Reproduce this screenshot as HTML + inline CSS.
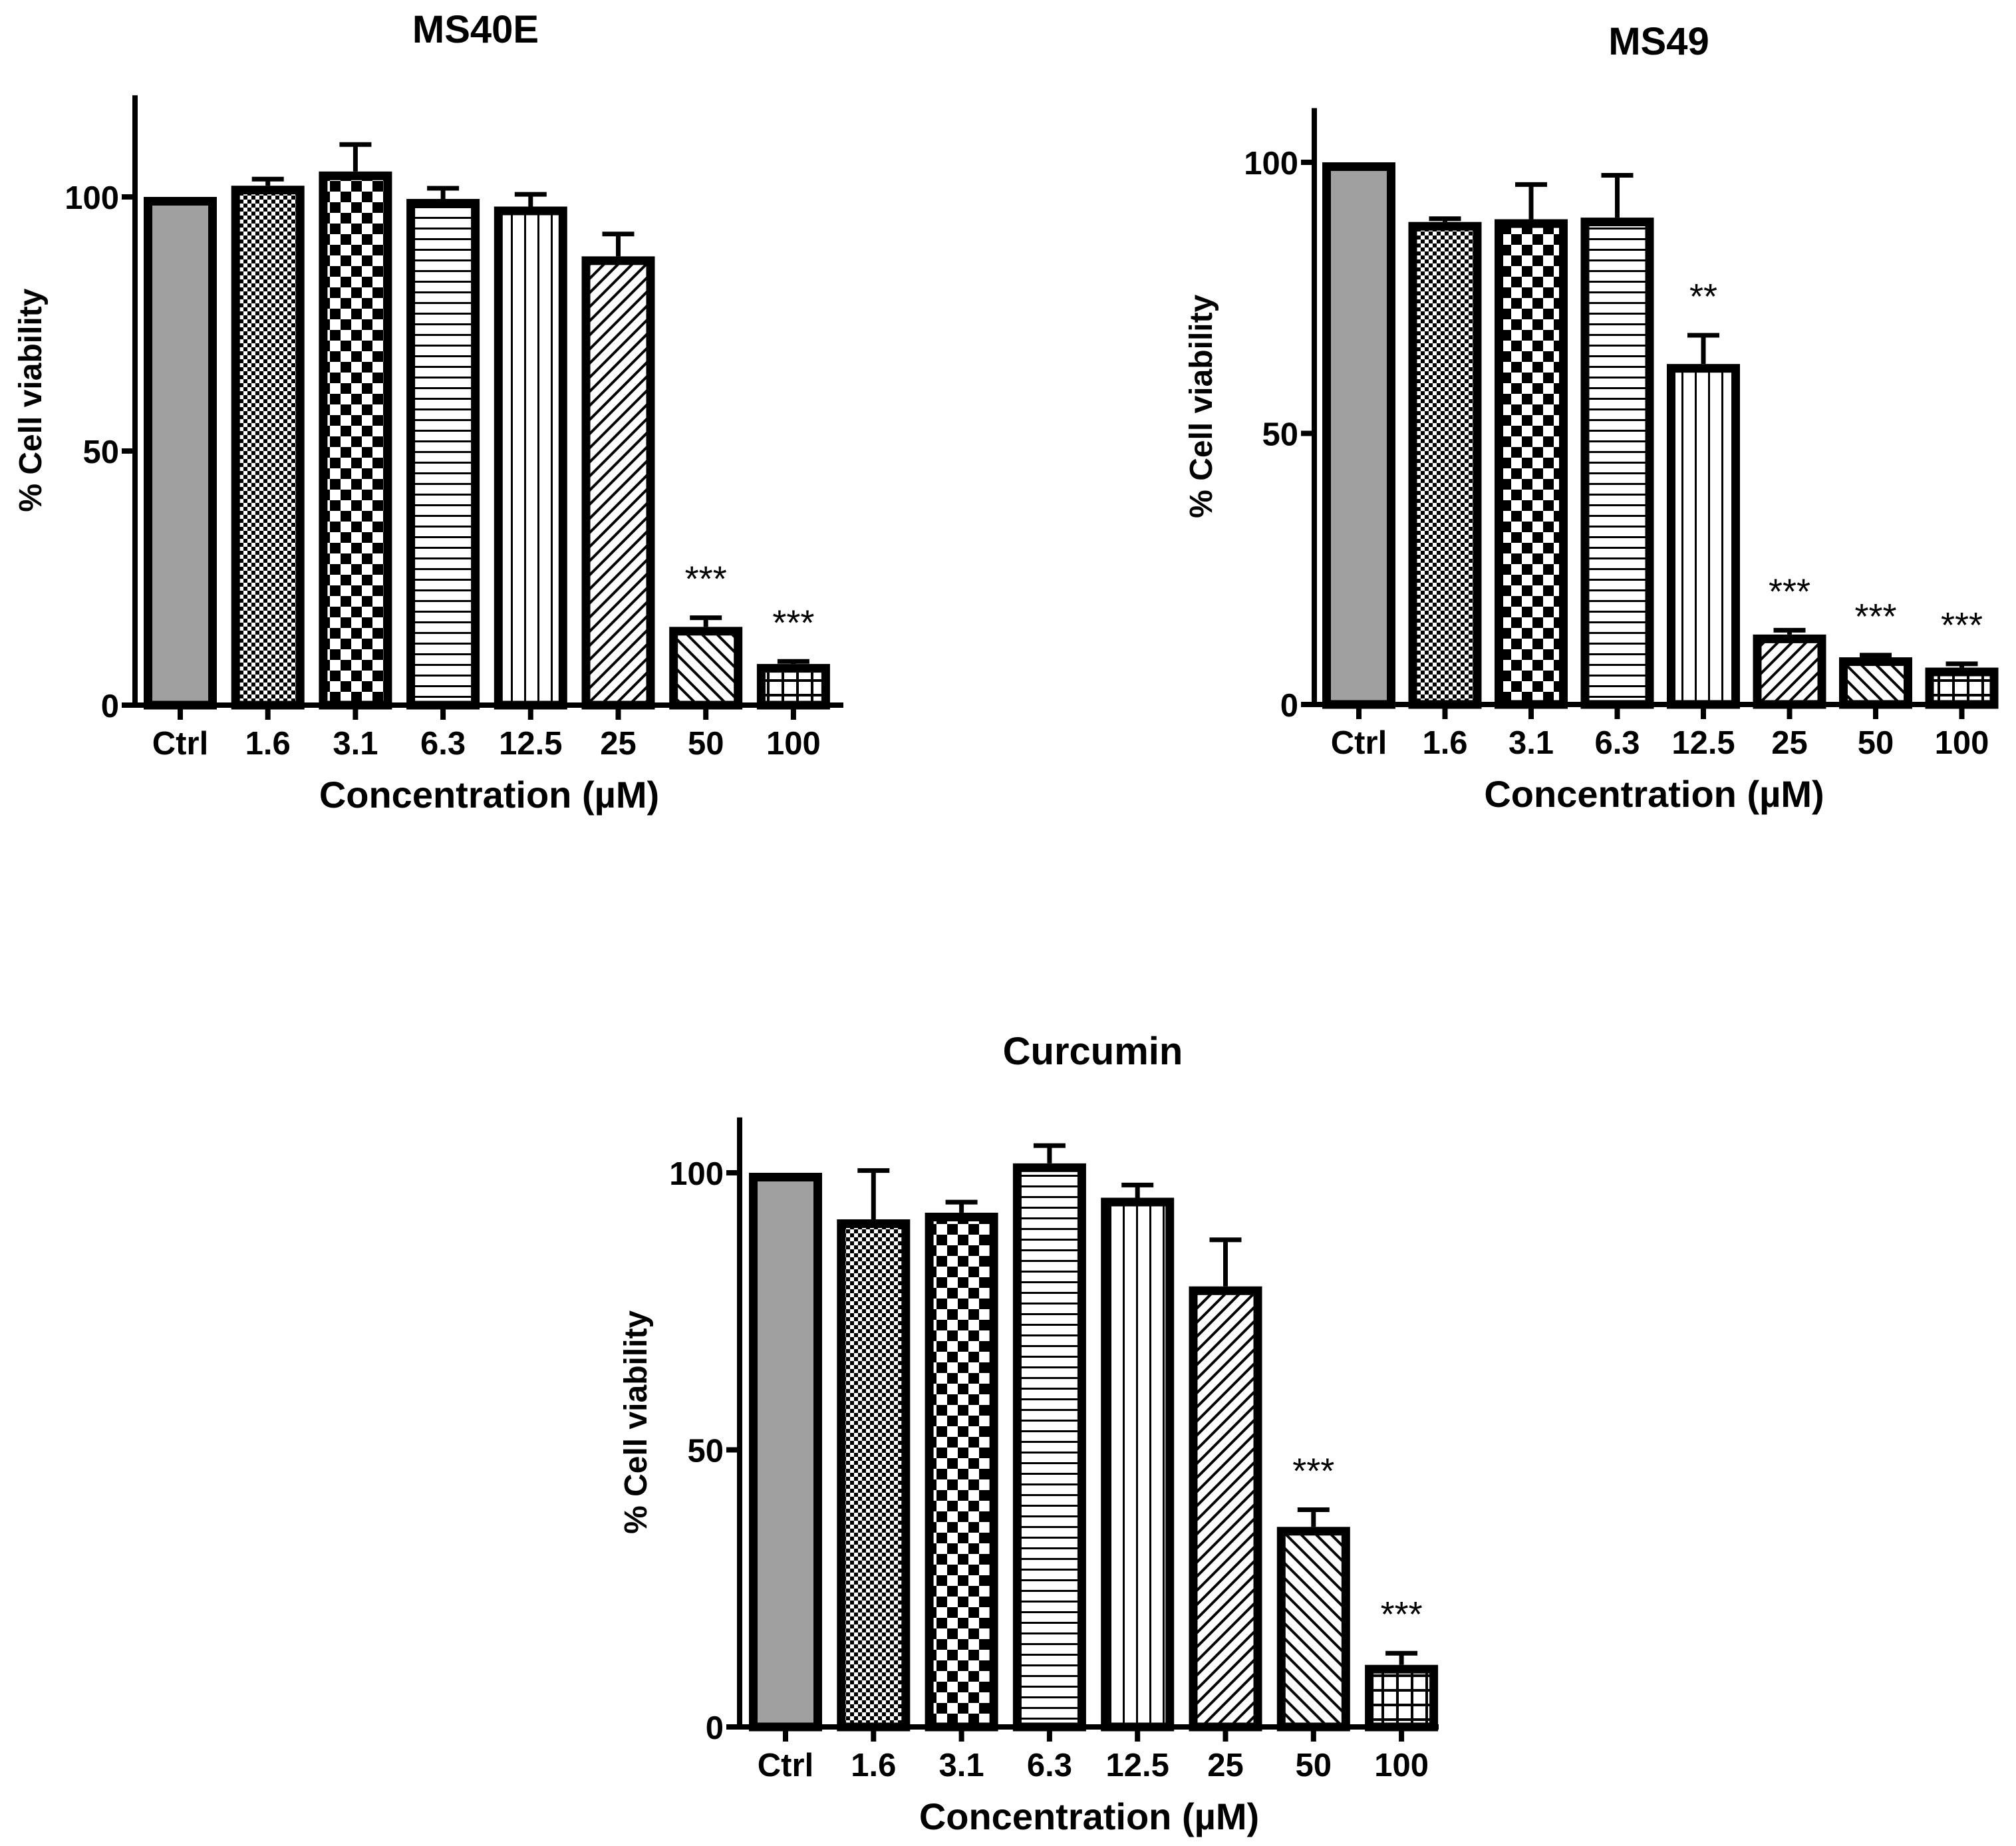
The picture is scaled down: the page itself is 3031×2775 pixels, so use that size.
<!DOCTYPE html>
<html><head><meta charset="utf-8">
<style>
html,body{margin:0;padding:0;background:#fff;}
svg{display:block;}
text{font-family:"Liberation Sans",Arial,sans-serif;}
</style></head>
<body>
<svg id="fig" width="3031" height="2775" viewBox="0 0 3031 2775" xmlns="http://www.w3.org/2000/svg">
<defs>
<pattern id="p1" width="12" height="12" patternUnits="userSpaceOnUse"><rect width="12" height="12" fill="#fff"/><rect width="6" height="6" fill="#000"/><rect x="6" y="6" width="6" height="6" fill="#000"/></pattern>
<pattern id="p2" width="32" height="32" patternUnits="userSpaceOnUse"><rect width="32" height="32" fill="#fff"/><rect width="16" height="16" fill="#000"/><rect x="16" y="16" width="16" height="16" fill="#000"/></pattern>
<pattern id="p3" width="20" height="16" patternUnits="userSpaceOnUse"><rect width="20" height="16" fill="#fff"/><rect y="6" width="20" height="3" fill="#000"/></pattern>
<pattern id="p4" width="20" height="20" patternUnits="userSpaceOnUse"><rect width="20" height="20" fill="#fff"/><rect x="8" width="3" height="20" fill="#000"/></pattern>
<pattern id="p5" width="15" height="15" patternUnits="userSpaceOnUse" patternTransform="rotate(45)"><rect width="15" height="15" fill="#fff"/><rect x="6" width="4" height="15" fill="#000"/></pattern>
<pattern id="p6" width="16" height="16" patternUnits="userSpaceOnUse" patternTransform="rotate(-45)"><rect width="16" height="16" fill="#fff"/><rect x="6" width="4" height="16" fill="#000"/></pattern>
<pattern id="p7" width="22" height="22" patternUnits="userSpaceOnUse"><rect width="22" height="22" fill="#fff"/><rect x="9" width="4" height="22" fill="#000"/><rect y="9" width="22" height="4" fill="#000"/></pattern>
</defs>
</svg>
<script>
const categories = ["Ctrl","1.6","3.1","6.3","12.5","25","50","100"];
const ms40eValues = [100,102.2,105,99.6,98.1,88.3,15.4,8.1];
const ms40eErrors = [0,103.5,110.3,101.7,100.5,92.7,17.2,8.6];
const ms40eStars = ["","","","","","","***","***"];
const ms49Values = [100,89,89.5,89.8,62.8,12.9,8.7,6.8];
const ms49Errors = [0,89.6,95.9,97.6,68.1,13.7,9.1,7.5];
const ms49Stars = ["","","","","**","***","***","***"];
const curcuminValues = [100,91.6,92.8,101.7,95.5,79.5,36.1,11.2];
const curcuminErrors = [0,100.4,94.7,104.9,97.8,87.9,39.2,13.3];
const curcuminStars = ["","","","","","","***","***"];
const yTicks = [0,50,100];
const fills = ["#a0a0a0","url(#p1)","url(#p2)","url(#p3)","url(#p4)","url(#p5)","url(#p6)","url(#p7)"];

const NS="http://www.w3.org/2000/svg";
const svg=document.getElementById('fig');
function mk(tag,attrs,parent){const e=document.createElementNS(NS,tag);for(const k in attrs)e.setAttribute(k,attrs[k]);(parent||svg).appendChild(e);return e;}

function chart(cfg){
  const g=mk('g',{});
  
  
  const y=v=>cfg.y0-(v/100)*(cfg.y0-cfg.y100);
  const x=i=>cfg.c0+i*cfg.step;
  const hw=55;
  cfg.values.forEach((v,i)=>{
    const r=mk('rect',{x:x(i)-hw+6.5,y:y(v)+6.5,width:2*hw-13,height:Math.max(0,cfg.y0-y(v)-6.5),fill:fills[i],stroke:'#000','stroke-width':13},g);
    
    
    const e=cfg.errs[i];
    if(e>v){
      const l=mk('line',{x1:x(i),x2:x(i),y1:y(v),y2:y(e),stroke:'#000','stroke-width':7},g);
      
      
      mk('line',{x1:x(i)-24,x2:x(i)+24,y1:y(e),y2:y(e),stroke:'#000','stroke-width':7},g);
    }
    if(cfg.stars[i]){
      const t=mk('text',{x:x(i),y:y(e>v?e:v)-40,'text-anchor':'middle','font-size':54},g);
      t.textContent=cfg.stars[i];
      
      
    }
    mk('line',{x1:x(i),x2:x(i),y1:cfg.y0,y2:cfg.y0+22,stroke:'#000','stroke-width':8},g);
    const lb=mk('text',{x:x(i),y:cfg.y0+74,'text-anchor':'middle','font-size':49,'font-weight':'bold'},g);
    lb.textContent=categories[i];
    
    
  });
  const ya=mk('line',{x1:cfg.ax,x2:cfg.ax,y1:y(cfg.top),y2:cfg.y0+4,stroke:'#000','stroke-width':8},g);
  
  
  const xa=mk('line',{x1:cfg.ax-20,x2:cfg.xend,y1:cfg.y0,y2:cfg.y0,stroke:'#000','stroke-width':8},g);
  
  
  yTicks.forEach(t=>{
    mk('line',{x1:cfg.ax-20,x2:cfg.ax,y1:y(t),y2:y(t),stroke:'#000','stroke-width':8},g);
    const l=mk('text',{x:cfg.ax-24,y:y(t)+18,'text-anchor':'end','font-size':49,'font-weight':'bold'},g);
    l.textContent=t;
    
    
  });
  const ti=mk('text',{x:cfg.tx,y:cfg.ty,'text-anchor':'middle','font-size':58,'font-weight':'bold'},g);
  ti.textContent=cfg.title;
  
  
  const xt=mk('text',{x:(cfg.ax+cfg.xend)/2,y:cfg.y0+154,'text-anchor':'middle','font-size':56,'font-weight':'bold'},g);
  xt.textContent='Concentration (\u00b5M)';
  
  
  const yt=mk('text',{x:0,y:0,'text-anchor':'middle','font-size':48,'font-weight':'bold',transform:`translate(${cfg.ytx},${(y(cfg.top)+cfg.y0)/2}) rotate(-90)`},g);
  yt.textContent='% Cell viability';
  
  
}
chart({name:'ms40e-chart',title:'MS40E',values:ms40eValues,errs:ms40eErrors,stars:ms40eStars,ax:203,y0:1060,y100:296,top:120,xend:1268,c0:271,step:131.7,tx:715,ty:64,ytx:62});
chart({name:'ms49-chart',title:'MS49',values:ms49Values,errs:ms49Errors,stars:ms49Stars,ax:1976,y0:1059,y100:244,top:110,xend:2998,c0:2043,step:129.5,tx:2494,ty:82,ytx:1822});
chart({name:'curcumin-chart',title:'Curcumin',values:curcuminValues,errs:curcuminErrors,stars:curcuminStars,ax:1112,y0:2596,y100:1763,top:110,xend:2163,c0:1181,step:132.3,tx:1643,ty:1600,ytx:972});
</script>
</body></html>
